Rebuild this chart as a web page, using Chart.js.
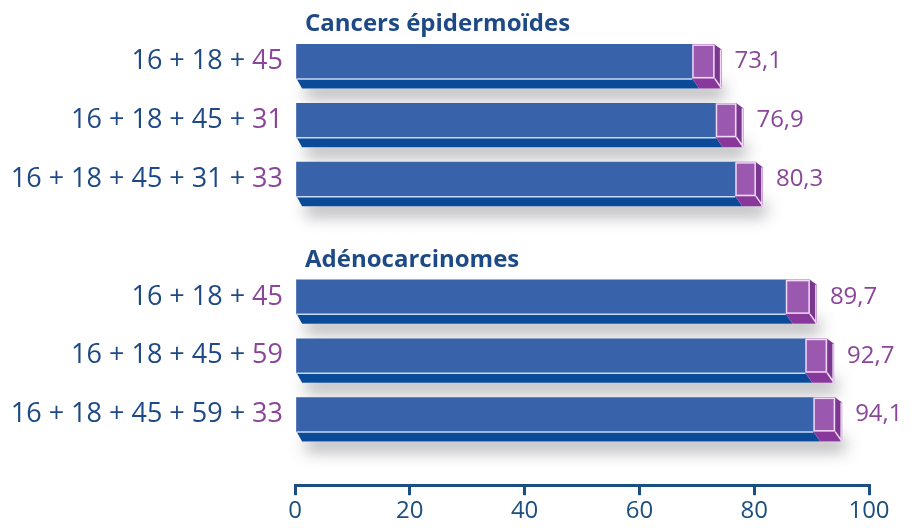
<!DOCTYPE html>
<html lang="fr">
<head>
<meta charset="utf-8">
<script src="https://cdn.jsdelivr.net/npm/chart.js@4.4.1/dist/chart.umd.min.js"></script>
<style>
  html, body { margin: 0; padding: 0; background: #fff; }
</style>
</head>
<body>
<canvas id="couvertureChart" width="912" height="528"></canvas>
<script>
// Données
const groupes = ['Cancers épidermoïdes', 'Adénocarcinomes'];
const debutGroupe = [0, 4]; // rang de la première barre de chaque groupe
const combinaisons = [
    '16 + 18 + 45',
    '16 + 18 + 45 + 31',
    '16 + 18 + 45 + 31 + 33',
    '',
    '16 + 18 + 45',
    '16 + 18 + 45 + 59',
    '16 + 18 + 45 + 59 + 33'
];
const couverture = [73.1, 76.9, 80.3, null, 89.7, 92.7, 94.1];
// segment violet = part du dernier type ajouté (estimée sur la figure)
const partAjoutee = [3.9, 3.6, 3.6, null, 4.2, 3.8, 3.8];
const ticksX = [0, 20, 40, 60, 80, 100];

// Couleurs
const BLEU = '#3862aa';
const BLEU_FONCE = '#0a4a98';
const VIOLET = '#9b58af';
const VIOLET_FONCE = '#7a3790';
const TEXTE_BLEU = '#1d4a86';
const TEXTE_VIOLET = '#8a4699';
const AXE = '#1b4f80';

const EPAISSEUR = 34;     // face avant de la barre
const PROF = { dx: 7, dy: 10 }; // profondeur du faux relief

const lignes = couverture.map((v, i) => i).filter(i => couverture[i] !== null);
const dataBleu = lignes.map(i => ({ y: i, x: [0, couverture[i] - partAjoutee[i]] }));
const dataViolet = lignes.map(i => ({ y: i, x: [couverture[i] - partAjoutee[i], couverture[i]] }));

function virgule(v) {
    return v.toFixed(1).replace('.', ',');
}

function poly(ctx, pts, fill) {
    ctx.beginPath();
    ctx.moveTo(pts[0][0], pts[0][1]);
    for (let k = 1; k < pts.length; k++) ctx.lineTo(pts[k][0], pts[k][1]);
    ctx.closePath();
    ctx.fillStyle = fill;
    ctx.fill();
}

// Ombres, faces du relief, valeurs et libellés
const relief3d = {
    id: 'relief3d',
    beforeDatasetsDraw(chart) {
        const ctx = chart.ctx;
        const bleu = chart.getDatasetMeta(0).data;
        const violet = chart.getDatasetMeta(1).data;
        ctx.save();
        violet.forEach((el, k) => {
            const xs = bleu[k].base;
            const xe = el.x + PROF.dx;
            const yb = el.y + el.height / 2 + PROF.dy;
            ctx.shadowColor = 'rgba(80,80,90,0.45)';
            ctx.shadowBlur = 16;
            ctx.shadowOffsetX = 3;
            ctx.shadowOffsetY = 10;
            ctx.fillStyle = '#fff';
            ctx.fillRect(xs + 6, yb - 14, xe - xs - 6, 14);
        });
        ctx.restore();
    },
    afterDatasetsDraw(chart) {
        const ctx = chart.ctx;
        const bleu = chart.getDatasetMeta(0).data;
        const violet = chart.getDatasetMeta(1).data;
        ctx.save();
        violet.forEach((el, k) => {
            const xs = bleu[k].base;
            const xm = el.base;
            const xe = el.x;
            const yt = el.y - el.height / 2;
            const yb = el.y + el.height / 2;
            const { dx, dy } = PROF;

            // face inférieure
            poly(ctx, [[xs, yb], [xm, yb], [xm + dx, yb + dy], [xs + dx * 0.8, yb + dy]], BLEU_FONCE);
            poly(ctx, [[xm, yb], [xe, yb], [xe + dx, yb + dy], [xm + dx, yb + dy]], '#88389b');
            // face latérale
            poly(ctx, [[xe, yt], [xe + dx, yt + dy * 0.5], [xe + dx, yb + dy], [xe, yb]], VIOLET_FONCE);

            // arêtes claires
            ctx.lineWidth = 1.5;
            ctx.strokeStyle = '#c9dcf3';
            ctx.beginPath();
            ctx.moveTo(xs, yb + 0.5);
            ctx.lineTo(xm, yb + 0.5);
            ctx.stroke();
            ctx.strokeStyle = '#f0d8f6';
            ctx.strokeRect(xm + 0.75, yt + 0.75, xe - xm - 1.5, el.height - 1.5);
            ctx.beginPath();
            ctx.moveTo(xe, yb);
            ctx.lineTo(xe + dx, yb + dy);
            ctx.moveTo(xe + dx - 1, yt + dy * 0.5);
            ctx.lineTo(xe + dx - 1, yb + dy);
            ctx.stroke();

            // valeur
            const i = lignes[k];
            ctx.fillStyle = TEXTE_VIOLET;
            ctx.font = '24px "Open Sans"';
            ctx.textAlign = 'left';
            ctx.textBaseline = 'middle';
            ctx.fillText(virgule(couverture[i]), xe + dx + 13, el.y);
        });
        ctx.restore();
    },
    afterDraw(chart) {
        const ctx = chart.ctx;
        const yScale = chart.scales.y;
        const xDroite = chart.chartArea.left - 12;
        ctx.save();
        ctx.textBaseline = 'middle';
        ctx.textAlign = 'left';
        ctx.font = '27px "Open Sans"';
        combinaisons.forEach((txt, i) => {
            if (!txt) return;
            const cut = txt.lastIndexOf('+ ') + 2;
            const debut = txt.slice(0, cut);
            const fin = txt.slice(cut);
            const y = yScale.getPixelForValue(i);
            const wFin = ctx.measureText(fin).width;
            const wDebut = ctx.measureText(debut).width;
            ctx.fillStyle = TEXTE_VIOLET;
            ctx.fillText(fin, xDroite - wFin, y);
            ctx.fillStyle = TEXTE_BLEU;
            ctx.fillText(debut, xDroite - wFin - wDebut, y);
        });

        // titres des groupes
        ctx.font = 'bold 24px "Open Sans"';
        ctx.textBaseline = 'alphabetic';
        ctx.fillStyle = TEXTE_BLEU;
        groupes.forEach((titre, g) => {
            const yHaut = yScale.getPixelForValue(debutGroupe[g]) - EPAISSEUR / 2;
            ctx.fillText(titre, chart.chartArea.left + 10, yHaut - 13);
        });
        ctx.restore();
    }
};

const ctx = document.getElementById('couvertureChart').getContext('2d');

new Chart(ctx, {
    type: 'bar',
    data: {
        datasets: [
            {
                label: 'Combinaison',
                data: dataBleu,
                backgroundColor: BLEU,
                borderWidth: 0,
                barThickness: EPAISSEUR,
                grouped: false
            },
            {
                label: 'Dernier type ajouté',
                data: dataViolet,
                backgroundColor: VIOLET,
                borderWidth: 0,
                barThickness: EPAISSEUR,
                grouped: false
            }
        ]
    },
    plugins: [relief3d],
    options: {
        indexAxis: 'y',
        responsive: false,
        animation: false,
        layout: {
            padding: { top: 32, left: 295, right: 43, bottom: 0 }
        },
        scales: {
            y: {
                type: 'linear',
                display: false,
                reverse: true,
                min: -0.5,
                max: 7.2,
                offset: false
            },
            x: {
                min: 0,
                max: 100,
                afterBuildTicks: (scale) => {
                    scale.ticks = ticksX.map(v => ({ value: v }));
                },
                border: { display: true, color: AXE, width: 3 },
                grid: {
                    drawOnChartArea: false,
                    drawTicks: true,
                    tickLength: 10,
                    lineWidth: 3,
                    color: AXE
                },
                ticks: {
                    color: AXE,
                    padding: 2,
                    maxRotation: 0,
                    font: { family: '"Open Sans"', size: 24 }
                }
            }
        },
        plugins: {
            legend: { display: false },
            tooltip: { enabled: false }
        }
    }
});
</script>
</body>
</html>
